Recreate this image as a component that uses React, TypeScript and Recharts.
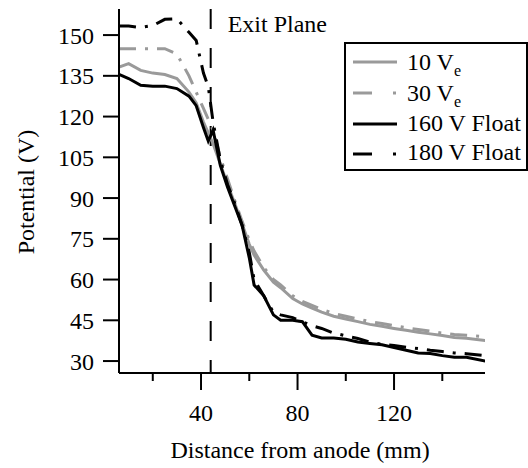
import React from "react";
import { LineChart, Line, XAxis, YAxis, ReferenceLine, Label } from "recharts";

const distance = [6, 10, 15, 20, 25, 30, 35, 38, 41, 43, 45, 48, 51, 54, 57, 60, 62, 66, 70, 73, 78, 82, 86, 90, 95, 100, 105, 110, 115, 120, 125, 130, 135, 140, 145, 150, 158];
const tenVe = [138.2, 139.5, 137, 136, 135.5, 134, 129, 125, 118, 114, 110, 102.5, 95, 88, 80.5, 73, 69, 63.5, 59, 57, 53, 51, 49.5, 48, 46.5, 45.5, 44.5, 43.5, 42.8, 42, 41.3, 40.6, 40, 39.4, 38.7, 38.4, 37.5];
const thirtyVe = [145, 145, 145, 145, 145, 143, 135, 129, 123, 119, 115, 105, 97, 89, 81.5, 74.5, 70.5, 64.5, 60, 58, 54, 52, 50.5, 49, 47.5, 46.5, 45.5, 44.5, 43.8, 43, 42.3, 41.6, 41, 40.3, 39.8, 39.5, 39];
const float160 = [135.5, 134, 131.5, 131.2, 131.2, 130.3, 127.5, 124, 116, 111, 115, 102, 94, 87, 80, 68, 58, 54, 47, 45, 45, 44.5, 39.5, 38.5, 38.5, 38, 37, 36.5, 36, 35, 34, 33, 32.8, 32, 31.4, 31.4, 30];
const float180 = [153.3, 153.3, 152.8, 153.5, 155.8, 156, 151, 148, 136, 131, 118, 104, 95, 88, 80, 70, 60, 54, 48, 47, 46, 44.5, 43, 42, 40.3, 39.3, 38.3, 37, 36.2, 35.7, 35.1, 34.6, 34, 33.5, 33, 32.7, 32];

const seriesNames = ["10 V", "30 V", "160 V Float", "180 V Float"];
const xTicks = [20, 40, 60, 80, 100, 120, 140];
const xMajorTicks = [40, 80, 120];
const yTicks = [30, 45, 60, 75, 90, 105, 120, 135, 150];
const exitPlane = 44;

const data = distance.map((d, i) => ({
  d,
  ten: tenVe[i],
  thirty: thirtyVe[i],
  f160: float160[i],
  f180: float180[i],
}));

const FONT = '"Liberation Serif", "Times New Roman", serif';
const GRAY = "#9a9a9a";
const DASH = "17 9 3 9";

const XTick = (props: any) => {
  const { x, y, payload } = props;
  const major = xMajorTicks.includes(payload.value);
  return (
    <g>
      <line x1={x} x2={x} y1={y} y2={y + (major ? 17 : 8)} stroke="#000" strokeWidth={2} />
      {major && (
        <text x={x} y={y + 48} textAnchor="middle" fontFamily={FONT} fontSize={24} fill="#000">
          {payload.value}
        </text>
      )}
    </g>
  );
};

const LegendBox = () => {
  const rows = [
    { color: GRAY, dashed: false, sub: true },
    { color: GRAY, dashed: true, sub: true },
    { color: "#000", dashed: false, sub: false },
    { color: "#000", dashed: true, sub: false },
  ];
  const lineYs = [62, 93, 124, 154];
  const textYs = [70, 101, 131, 160];
  return (
    <svg width={184} height={129} style={{ display: "block" }}>
      <rect x={1} y={1} width={182} height={127} fill="#fff" stroke="#000" strokeWidth={2} />
      {rows.map((r, i) => {
        const ly = lineYs[i] - 42;
        const ty = textYs[i] - 42;
        return (
          <g key={i}>
            {r.dashed ? (
              <g>
                <line x1={9} x2={28} y1={ly} y2={ly} stroke={r.color} strokeWidth={3} />
                <line x1={49} x2={52} y1={ly} y2={ly} stroke={r.color} strokeWidth={3} />
              </g>
            ) : (
              <line x1={9} x2={53} y1={ly} y2={ly} stroke={r.color} strokeWidth={3} />
            )}
            <text x={63} y={ty} fontFamily={FONT} fontSize={24} fill="#000">
              {seriesNames[i]}
              {r.sub && (
                <tspan fontSize={16} dy={6}>
                  e
                </tspan>
              )}
            </text>
          </g>
        );
      })}
    </svg>
  );
};

export default function App() {
  return (
    <div style={{ position: "absolute", left: 0, top: 0, width: 528, height: 468, background: "#fff", overflow: "hidden" }}>
      <LineChart
        width={528}
        height={468}
        data={data}
        margin={{ top: 9, right: 43, left: 0, bottom: 0 }}
      >
        <XAxis
          dataKey="d"
          type="number"
          domain={[6, 157.7]}
          ticks={xTicks}
          allowDataOverflow
          height={95}
          tickSize={0}
          tickMargin={0}
          tickLine={false}
          axisLine={{ stroke: "#000", strokeWidth: 2 }}
          tick={<XTick />}
          interval={0}
        >
          <Label
            content={(p: any) => {
              const vb = p.viewBox;
              return (
                <text x={vb.x + vb.width / 2 - 2} y={458} textAnchor="middle" fontFamily={FONT} fontSize={24} fill="#000">
                  Distance from anode (mm)
                </text>
              );
            }}
          />
        </XAxis>
        <YAxis
          type="number"
          domain={[25.6, 159.6]}
          ticks={yTicks}
          allowDataOverflow
          width={119}
          tickSize={16}
          tickMargin={9}
          interval={0}
          tickLine={{ stroke: "#000", strokeWidth: 2 }}
          axisLine={{ stroke: "#000", strokeWidth: 2 }}
          tick={{ fontFamily: FONT, fontSize: 24, fill: "#000" }}
        >
          <Label
            content={() => (
              <text
                x={0}
                y={0}
                transform="translate(34 192) rotate(-90)"
                textAnchor="middle"
                fontFamily={FONT}
                fontSize={24}
                fill="#000"
              >
                Potential (V)
              </text>
            )}
          />
        </YAxis>
        <ReferenceLine
          segment={[
            { x: exitPlane, y: 159.6 },
            { x: exitPlane, y: 25.6 },
          ]}
          stroke="#000"
          strokeWidth={2}
          strokeDasharray="20 19"
          ifOverflow="visible"
          label={(p: any) => {
            const vb = p.viewBox || {};
            return (
              <text x={(vb.x ?? 211) + 17} y={32} fontFamily={FONT} fontSize={24} fill="#000">
                Exit Plane
              </text>
            );
          }}
        />
        <Line dataKey="ten" stroke={GRAY} strokeWidth={3} dot={false} isAnimationActive={false} />
        <Line dataKey="thirty" stroke={GRAY} strokeWidth={3} strokeDasharray={DASH} dot={false} isAnimationActive={false} />
        <Line dataKey="f160" stroke="#000" strokeWidth={3} dot={false} isAnimationActive={false} />
        <Line dataKey="f180" stroke="#000" strokeWidth={3} strokeDasharray={DASH} dot={false} isAnimationActive={false} />
      </LineChart>
      <div style={{ position: "absolute", left: 344, top: 42, width: 184, height: 129 }}>
        <LegendBox />
      </div>
    </div>
  );
}
